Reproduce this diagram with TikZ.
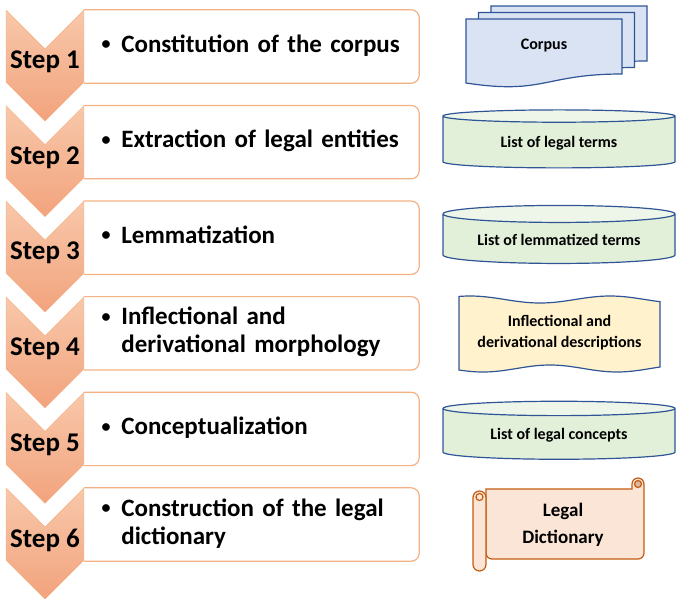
\documentclass[tikz,border=0pt]{standalone}
\usepackage{fontspec}
\setmainfont{Carlito}
\usepackage{tikz}
\usetikzlibrary{shapes,shapes.geometric,shapes.symbols,positioning}

\definecolor{chevtop}{HTML}{F8C8AA}
\definecolor{chevbot}{HTML}{F2A37D}
\definecolor{chevline}{HTML}{F4B183}
\definecolor{blueline}{HTML}{2F5597}
\definecolor{docfill}{HTML}{DAE3F3}
\definecolor{listfill}{HTML}{E2F0D9}
\definecolor{listtop}{HTML}{EEF6E9}
\definecolor{tapefill}{HTML}{FFF2CC}
\definecolor{scrollfill}{HTML}{FBE5D6}
\definecolor{scrollline}{HTML}{C55A11}
\definecolor{curlfill}{HTML}{D6B8A4}

\tikzstyle{chevron} = [signal, signal from=north, signal to=south, signal pointer angle=90, draw=chevline, top color=chevtop, bottom color=chevbot, minimum width=78pt, minimum height=33pt, inner sep=0pt]
\tikzstyle{steplabel} = [inner sep=0pt, font=\fontsize{27}{30}\selectfont\bfseries]
\tikzstyle{stepbox} = [rectangle, minimum width=335pt, minimum height=73pt, text width=299.6pt, inner xsep=17.7pt, align=left, font=\fontsize{25}{28}\selectfont\bfseries]
\tikzstyle{boxline} = [draw=chevline, line width=1.2pt, rounded corners=8pt]
\tikzstyle{docshape} = [draw=blueline, fill=docfill, line width=1.2pt]
\tikzstyle{drum} = [cylinder, shape border rotate=90, aspect=0.1, draw=blueline, line width=1.2pt, cylinder uses custom fill, cylinder body fill=listfill, cylinder end fill=listtop, minimum width=232pt, minimum height=58pt, font=\fontsize{16}{19}\selectfont\bfseries]
\tikzstyle{waveshape} = [draw=blueline, line width=1.2pt, fill=tapefill]
\tikzstyle{scrollshape} = [draw=scrollline, fill=scrollfill, line width=1.2pt]
\tikzstyle{rightlabel} = [align=center, inner sep=0pt, font=\fontsize{16}{21}\selectfont\bfseries]

\newcommand{\bitem}[1]{\begin{tabular}{@{}l@{\hspace{10.7pt}}l@{}}\raisebox{2.5pt}{\fontsize{18}{18}\selectfont\textbullet} & #1\end{tabular}}

\begin{document}
\begin{tikzpicture}[x=1pt, y=-1pt]
\useasboundingbox (0,0) rectangle (677,598);

% step boxes
\node [stepbox] (b1) at (251.5,46.5) {\bitem{Constitution of the corpus}};
\node [stepbox, below of=b1, node distance=95.6pt] (b2) {\bitem{Extraction of legal entities}};
\node [stepbox, below of=b2, node distance=95.6pt] (b3) {\bitem{Lemmatization}};
\node [stepbox, below of=b3, node distance=95.6pt] (b4) {\bitem{Inflectional and\\ & derivational morphology}};
\node [stepbox, below of=b4, node distance=95.6pt] (b5) {\bitem{Conceptualization}};
\node [stepbox, below of=b5, node distance=95.6pt] (b6) {\bitem{Construction of the legal\\ & dictionary}};
\draw [boxline] (b1.north west) -- (b1.north east) -- (b1.south east) -- (b1.south west);
\draw [boxline] (b2.north west) -- (b2.north east) -- (b2.south east) -- (b2.south west);
\draw [boxline] (b3.north west) -- (b3.north east) -- (b3.south east) -- (b3.south west);
\draw [boxline] (b4.north west) -- (b4.north east) -- (b4.south east) -- (b4.south west);
\draw [boxline] (b5.north west) -- (b5.north east) -- (b5.south east) -- (b5.south west);
\draw [boxline] (b6.north west) -- (b6.north east) -- (b6.south east) -- (b6.south west);

% chevrons
\node [chevron] (c1) at (45,65.5) {};
\node [chevron, below of=c1, node distance=95.6pt] (c2) {};
\node [chevron, below of=c2, node distance=95.6pt] (c3) {};
\node [chevron, below of=c3, node distance=95.6pt] (c4) {};
\node [chevron, below of=c4, node distance=95.6pt] (c5) {};
\node [chevron, below of=c5, node distance=95.6pt] (c6) {};
\node [steplabel] (s1) at (45,62) {Step 1};
\node [steplabel, below of=s1, node distance=95.6pt] (s2) {Step 2};
\node [steplabel, below of=s2, node distance=95.6pt] (s3) {Step 3};
\node [steplabel, below of=s3, node distance=95.6pt] (s4) {Step 4};
\node [steplabel, below of=s4, node distance=95.6pt] (s5) {Step 5};
\node [steplabel, below of=s5, node distance=95.6pt] (s6) {Step 6};

% corpus pages
\draw [docshape] (491,6) -- (647,6) -- (647,61) .. controls (569,61) and (569,82) .. (491,70) -- cycle;
\draw [docshape] (478.5,12.5) -- (634.5,12.5) -- (634.5,67.5) .. controls (556.5,67.5) and (556.5,88.5) .. (478.5,76.5) -- cycle;
\draw [docshape] (466,19) -- (622,19) -- (622,74) .. controls (544,74) and (544,95) .. (466,83) -- cycle;
\node [rightlabel] (corpus) at (544,46) {Corpus};

% outputs
\node [drum] (terms) at (559,143) {List of legal terms};
\node [drum, below of=terms, node distance=97pt] (lemmas) {List of lemmatized terms};
\draw [waveshape] plot [domain=459:660, samples=60] (\x,{299.5-3.5*cos(2.5714*(\x-470))}) -- plot [domain=660:459, samples=60] (\x,{368.5+3.5*cos(2.6866*(\x-483))}) -- cycle;
\node [rightlabel] (descr) at (559.5,333) {Inflectional and\\derivational descriptions};
\node [drum] (concepts) at (559,435) {List of legal concepts};

% scroll
\draw [scrollshape] (486,489) -- (632,489) -- (632,484) [rounded corners=6pt] -- (632,478) -- (644,478) -- (644,559) -- (486,559) [sharp corners] -- cycle;
\draw [scrollshape, fill=curlfill] (638,484) circle [radius=3.5];
\draw [scrollshape, rounded corners=6.5pt] (473,491) rectangle (486,571);
\draw [scrollshape] (479.5,497) circle [radius=3.5];
\node [rightlabel, font=\fontsize{19}{27}\selectfont\bfseries] (dict) at (563,525) {Legal\\Dictionary};

\end{tikzpicture}
\end{document}
